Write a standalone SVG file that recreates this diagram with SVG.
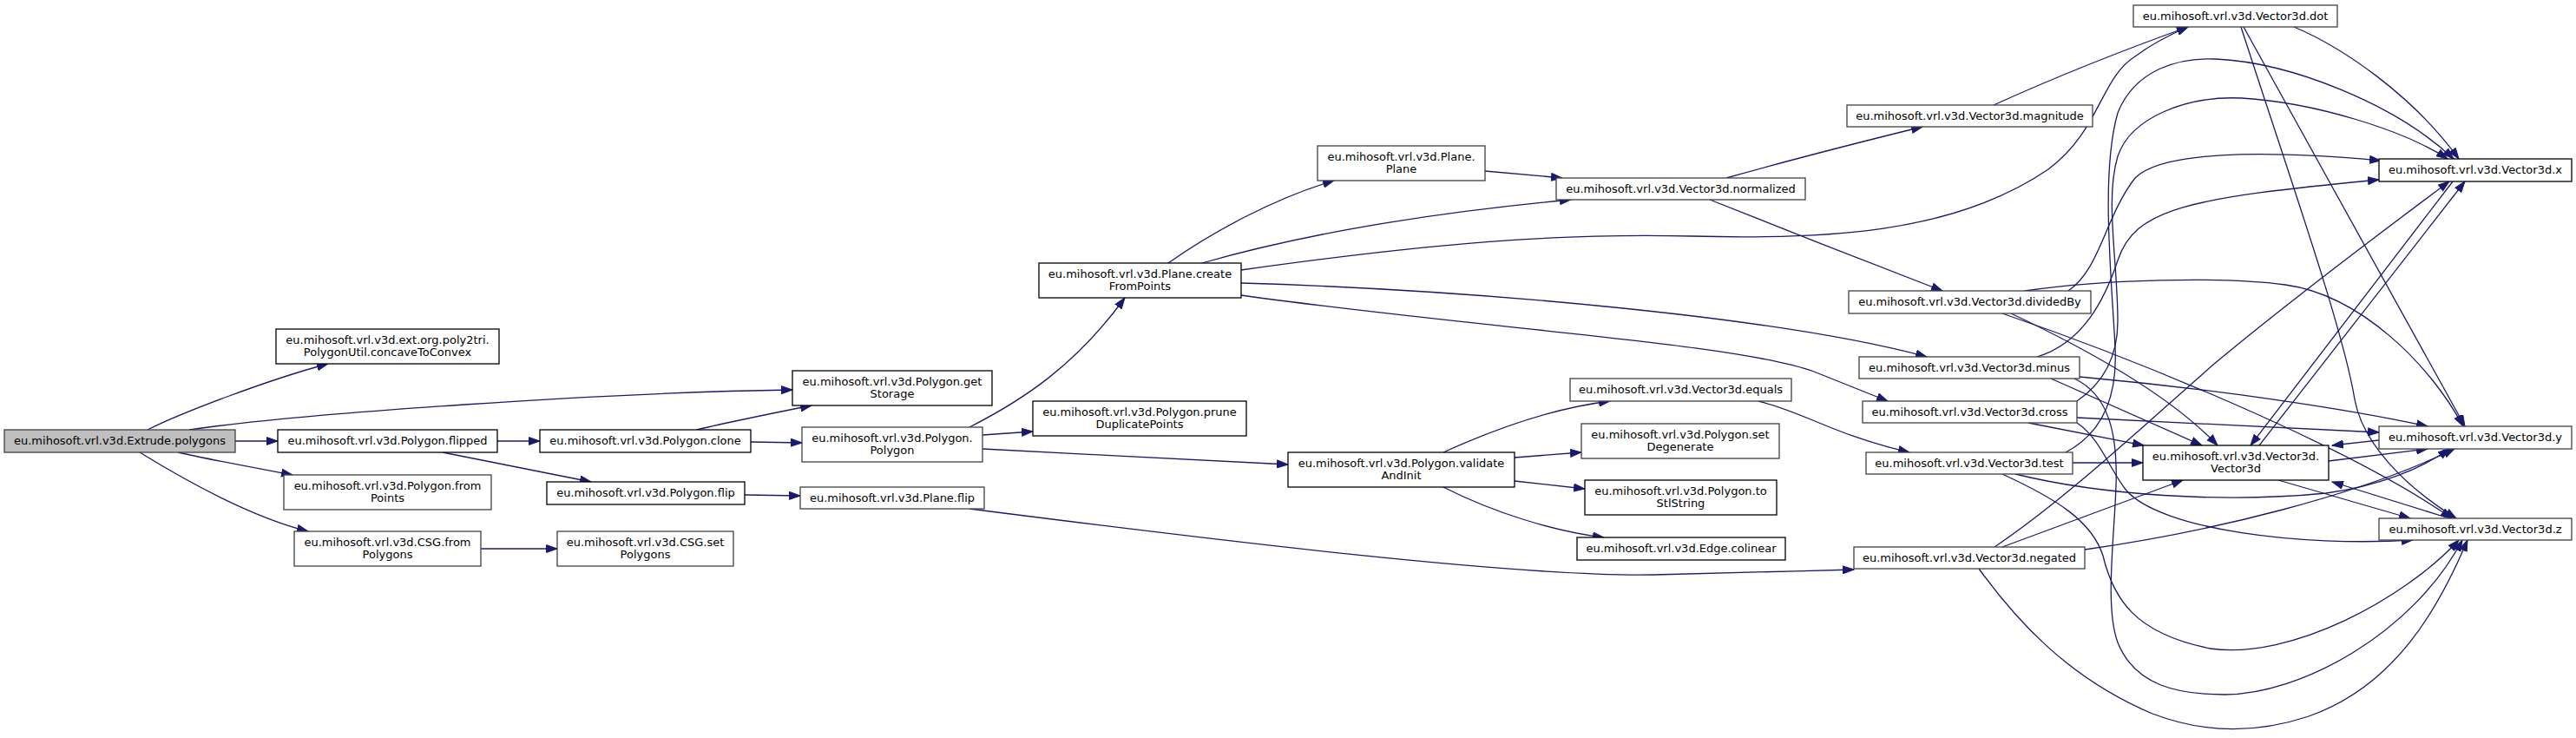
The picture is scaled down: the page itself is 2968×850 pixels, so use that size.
<svg xmlns="http://www.w3.org/2000/svg" width="2968" height="850" viewBox="0 0 2968 850">
<defs>
<marker id="ah" markerWidth="14" markerHeight="10" refX="13" refY="5" orient="auto" markerUnits="userSpaceOnUse"><path d="M0.5,0.6 L13,5 L0.5,9.4 z" fill="#191970" stroke="#191970" stroke-width="1"/></marker>
<style>
.nb rect{fill:#fff;stroke:#000;stroke-width:1.3}
.ng rect{fill:#fff;stroke:#404040;stroke-width:1.3}
.root rect{fill:#bfbfbf;stroke:#404040;stroke-width:1.3}
text{font-family:"DejaVu Sans",Verdana,sans-serif;font-size:13px;fill:#000;text-anchor:middle}
#edges path{fill:none;stroke:#191970;stroke-width:1.3;marker-end:url(#ah)}
</style>
</defs>
<rect width="2968" height="850" fill="#fff"/>
<g id="edges">
<path d="M170,495 C210,475 310,437 378,419"/>
<path d="M218,495 C350,476 700,452 913,449"/>
<path d="M271,508 L320,508"/>
<path d="M205,521 C240,529 300,540 337,547"/>
<path d="M161,521 C200,545 280,593 355,612"/>
<path d="M573,508 L622,508"/>
<path d="M510,521 L681,555"/>
<path d="M803,495 C830,488 900,474 935,467"/>
<path d="M865,509 L924,510"/>
<path d="M554,632 L642,632"/>
<path d="M858,570 L922,571"/>
<path d="M1117,492 C1180,460 1240,420 1296,343"/>
<path d="M1132,501 L1190,497"/>
<path d="M1132,517 C1250,523 1400,531 1484,535"/>
<path d="M1346,303 C1400,265 1470,228 1537,208"/>
<path d="M1385,303 C1500,270 1650,245 1810,230"/>
<path d="M1430,311 C1650,280 1800,268 1950,272 C2100,276 2250,270 2360,195 C2420,150 2420,90 2460,65 C2480,50 2500,40 2521,31"/>
<path d="M1430,326 C1700,334 2050,365 2220,411"/>
<path d="M1430,340 C1700,378 2000,395 2090,428 C2120,440 2150,452 2175,462"/>
<path d="M1989,205 C2060,185 2150,162 2215,146"/>
<path d="M1970,230 C2050,262 2160,305 2238,335"/>
<path d="M1711,197 L1800,205"/>
<path d="M1663,521 C1720,495 1790,470 1855,462"/>
<path d="M1745,527 L1822,521"/>
<path d="M1745,554 L1826,563"/>
<path d="M1663,561 C1720,590 1790,612 1848,619"/>
<path d="M2026,462 C2080,475 2110,500 2200,521"/>
<path d="M1117,586 C1400,622 1750,665 1906,662 C1990,660 2060,658 2136,656"/>
<path d="M2297,121 C2370,88 2440,60 2521,31"/>
<path d="M2643,31 C2700,55 2780,110 2833,183"/>
<path d="M2585,31 L2840,491"/>
<path d="M2582,31 C2640,210 2700,380 2713,460 C2722,510 2770,560 2830,597"/>
<path d="M2383,335 C2420,310 2425,250 2460,205 C2490,175 2600,172 2743,185"/>
<path d="M2333,335 C2420,322 2560,318 2633,328 C2720,340 2800,420 2838,491"/>
<path d="M2307,361 C2450,410 2700,510 2825,597"/>
<path d="M2317,361 C2400,400 2500,455 2555,513"/>
<path d="M2347,411 C2400,395 2425,345 2440,300 C2460,240 2520,228 2741,207"/>
<path d="M2396,434 C2550,448 2700,470 2797,491"/>
<path d="M2363,436 L2537,513"/>
<path d="M2390,436 C2430,455 2440,500 2438,560 C2436,620 2425,700 2440,740 C2460,790 2510,800 2563,800 C2650,800 2780,730 2837,622"/>
<path d="M2337,487 L2470,513"/>
<path d="M2393,462 C2425,440 2440,410 2440,370 C2440,300 2425,230 2440,180 C2455,135 2520,110 2583,113 C2667,118 2770,150 2820,183"/>
<path d="M2393,481 L2741,498"/>
<path d="M2393,487 C2420,505 2430,540 2450,565 C2490,610 2650,630 2780,622"/>
<path d="M2388,533 L2469,533"/>
<path d="M2380,521 C2420,500 2440,460 2437,400 C2433,320 2420,200 2440,130 C2460,80 2510,66 2553,68 C2640,72 2760,120 2827,183"/>
<path d="M2322,546 C2420,570 2560,580 2680,568 C2740,560 2790,540 2822,517"/>
<path d="M2307,546 C2370,575 2410,600 2423,640 C2435,690 2460,730 2547,747 C2640,760 2770,690 2833,622"/>
<path d="M2298,630 C2380,575 2470,490 2550,420 C2640,345 2740,270 2822,209"/>
<path d="M2307,630 L2515,553"/>
<path d="M2402,633 C2550,612 2720,570 2828,517"/>
<path d="M2280,655 C2320,710 2380,780 2480,822 C2540,845 2600,845 2660,825 C2760,790 2810,700 2843,622"/>
<path d="M2603,513 L2840,209"/>
<path d="M2826,209 L2593,513"/>
<path d="M2683,531 L2797,517"/>
<path d="M2741,507 L2687,513"/>
<path d="M2625,553 L2777,597"/>
<path d="M2822,597 L2687,555"/>
</g>
<g id="n1" class="root"><rect x="5" y="495" width="266" height="26"/><text x="138" y="511.5">eu.mihosoft.vrl.v3d.Extrude.polygons</text></g>
<g id="n2" class="nb"><rect x="318" y="379" width="257" height="40"/><text x="446.5" y="395.5">eu.mihosoft.vrl.v3d.ext.org.poly2tri.</text><text x="446.5" y="410">PolygonUtil.concaveToConvex</text></g>
<g id="n3" class="nb"><rect x="913" y="427" width="230" height="40"/><text x="1028" y="443.5">eu.mihosoft.vrl.v3d.Polygon.get</text><text x="1028" y="458">Storage</text></g>
<g id="n4" class="nb"><rect x="320" y="495" width="253" height="26"/><text x="446.5" y="511.5">eu.mihosoft.vrl.v3d.Polygon.flipped</text></g>
<g id="n5" class="ng"><rect x="327" y="547" width="239" height="40"/><text x="446.5" y="563.5">eu.mihosoft.vrl.v3d.Polygon.from</text><text x="446.5" y="578">Points</text></g>
<g id="n6" class="ng"><rect x="339" y="612" width="215" height="40"/><text x="446.5" y="628.5">eu.mihosoft.vrl.v3d.CSG.from</text><text x="446.5" y="643">Polygons</text></g>
<g id="n7" class="nb"><rect x="622" y="495" width="243" height="26"/><text x="743.5" y="511.5">eu.mihosoft.vrl.v3d.Polygon.clone</text></g>
<g id="n8" class="nb"><rect x="630" y="555" width="228" height="26"/><text x="744" y="571.5">eu.mihosoft.vrl.v3d.Polygon.flip</text></g>
<g id="n9" class="ng"><rect x="642" y="612" width="203" height="40"/><text x="743.5" y="628.5">eu.mihosoft.vrl.v3d.CSG.set</text><text x="743.5" y="643">Polygons</text></g>
<g id="n10" class="ng"><rect x="924" y="492" width="208" height="40"/><text x="1028" y="508.5">eu.mihosoft.vrl.v3d.Polygon.</text><text x="1028" y="523">Polygon</text></g>
<g id="n11" class="nb"><rect x="1197" y="303" width="233" height="40"/><text x="1313.5" y="319.5">eu.mihosoft.vrl.v3d.Plane.create</text><text x="1313.5" y="334">FromPoints</text></g>
<g id="n12" class="nb"><rect x="1190" y="462" width="246" height="40"/><text x="1313" y="478.5">eu.mihosoft.vrl.v3d.Polygon.prune</text><text x="1313" y="493">DuplicatePoints</text></g>
<g id="n13" class="ng"><rect x="922" y="561" width="212" height="25"/><text x="1028" y="577.5">eu.mihosoft.vrl.v3d.Plane.flip</text></g>
<g id="n14" class="ng"><rect x="1518" y="168" width="193" height="40"/><text x="1614.5" y="184.5">eu.mihosoft.vrl.v3d.Plane.</text><text x="1614.5" y="199">Plane</text></g>
<g id="n15" class="ng"><rect x="1793" y="205" width="287" height="25"/><text x="1936.5" y="221.5">eu.mihosoft.vrl.v3d.Vector3d.normalized</text></g>
<g id="n16" class="nb"><rect x="1484" y="521" width="261" height="40"/><text x="1614.5" y="537.5">eu.mihosoft.vrl.v3d.Polygon.validate</text><text x="1614.5" y="552">AndInit</text></g>
<g id="n17" class="ng"><rect x="1809" y="436" width="255" height="26"/><text x="1936.5" y="452.5">eu.mihosoft.vrl.v3d.Vector3d.equals</text></g>
<g id="n18" class="ng"><rect x="1822" y="488" width="228" height="40"/><text x="1936" y="504.5">eu.mihosoft.vrl.v3d.Polygon.set</text><text x="1936" y="519">Degenerate</text></g>
<g id="n19" class="nb"><rect x="1826" y="553" width="221" height="40"/><text x="1936.5" y="569.5">eu.mihosoft.vrl.v3d.Polygon.to</text><text x="1936.5" y="584">StlString</text></g>
<g id="n20" class="nb"><rect x="1817" y="619" width="240" height="26"/><text x="1937" y="635.5">eu.mihosoft.vrl.v3d.Edge.colinear</text></g>
<g id="n21" class="ng"><rect x="2128" y="121" width="283" height="25"/><text x="2269.5" y="137.5">eu.mihosoft.vrl.v3d.Vector3d.magnitude</text></g>
<g id="n22" class="ng"><rect x="2130" y="335" width="279" height="26"/><text x="2269.5" y="351.5">eu.mihosoft.vrl.v3d.Vector3d.dividedBy</text></g>
<g id="n23" class="ng"><rect x="2142" y="411" width="254" height="25"/><text x="2269" y="427.5">eu.mihosoft.vrl.v3d.Vector3d.minus</text></g>
<g id="n24" class="ng"><rect x="2146" y="462" width="247" height="25"/><text x="2269.5" y="478.5">eu.mihosoft.vrl.v3d.Vector3d.cross</text></g>
<g id="n25" class="ng"><rect x="2150" y="521" width="238" height="25"/><text x="2269" y="537.5">eu.mihosoft.vrl.v3d.Vector3d.test</text></g>
<g id="n26" class="ng"><rect x="2136" y="630" width="266" height="25"/><text x="2269" y="646.5">eu.mihosoft.vrl.v3d.Vector3d.negated</text></g>
<g id="n27" class="ng"><rect x="2458" y="6" width="235" height="25"/><text x="2575.5" y="22.5">eu.mihosoft.vrl.v3d.Vector3d.dot</text></g>
<g id="n28" class="nb"><rect x="2741" y="183" width="222" height="26"/><text x="2852" y="199.5">eu.mihosoft.vrl.v3d.Vector3d.x</text></g>
<g id="n29" class="nb"><rect x="2469" y="513" width="214" height="40"/><text x="2576" y="529.5">eu.mihosoft.vrl.v3d.Vector3d.</text><text x="2576" y="544">Vector3d</text></g>
<g id="n30" class="ng"><rect x="2741" y="491" width="222" height="26"/><text x="2852" y="507.5">eu.mihosoft.vrl.v3d.Vector3d.y</text></g>
<g id="n31" class="ng"><rect x="2741" y="597" width="222" height="25"/><text x="2852" y="613.5">eu.mihosoft.vrl.v3d.Vector3d.z</text></g>
</svg>
